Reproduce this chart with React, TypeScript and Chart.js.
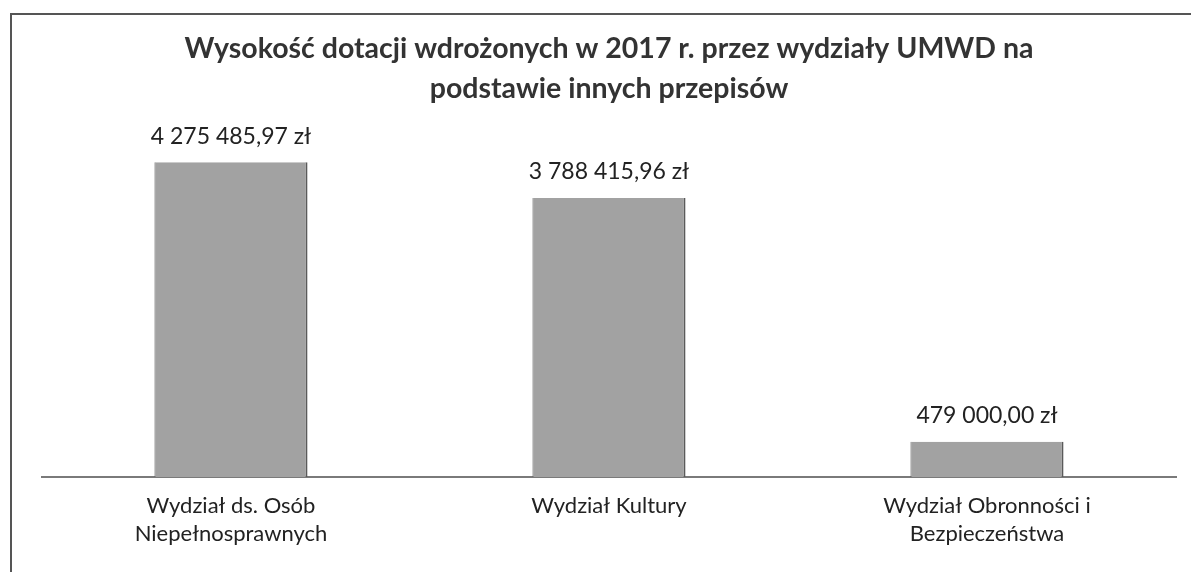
import React, { useEffect, useRef } from "react";
import { Chart, registerables } from "chart.js";

Chart.register(...registerables);

const titleLines = [
  "Wysokość dotacji wdrożonych w 2017 r. przez wydziały UMWD na",
  "podstawie innych przepisów",
];
const categories = [
  ["Wydział ds. Osób", "Niepełnosprawnych"],
  ["Wydział Kultury"],
  ["Wydział Obronności i", "Bezpieczeństwa"],
];
const values = [4275485.97, 3788415.96, 479000.0];
const yMax = 5000000;

function formatPLN(v: number): string {
  const [intPart, dec] = v.toFixed(2).split(".");
  const grouped = intPart.replace(/\B(?=(\d{3})+(?!\d))/g, " ");
  return `${grouped},${dec} zł`;
}

const FONT = "Lato, 'Open Sans', sans-serif";

const valueLabels = {
  id: "valueLabels",
  afterDatasetsDraw(chart: any) {
    const { ctx } = chart;
    const meta = chart.getDatasetMeta(0);
    ctx.save();
    ctx.font = `23px ${FONT}`;
    ctx.fillStyle = "#222222";
    ctx.textAlign = "center";
    ctx.textBaseline = "middle";
    meta.data.forEach((bar: any, i: number) => {
      ctx.fillText(formatPLN(values[i]), bar.x, bar.y - 26);
    });
    ctx.restore();
  },
};

export default function App() {
  const ref = useRef<HTMLCanvasElement>(null);

  useEffect(() => {
    if (!ref.current) return;
    const chart = new Chart(ref.current, {
      type: "bar",
      data: {
        labels: categories,
        datasets: [
          {
            data: values,
            backgroundColor: "#a2a2a2",
            borderColor: "#5a5a5a",
            borderWidth: { left: 1, right: 2, top: 0, bottom: 0 },
            borderSkipped: false,
            categoryPercentage: 1,
            barPercentage: 0.405,
          },
        ],
      },
      options: {
        animation: false,
        responsive: false,
        maintainAspectRatio: false,
        layout: { padding: { left: 30, right: 15, bottom: 15, top: 0 } },
        plugins: {
          legend: { display: false },
          tooltip: { enabled: false },
          title: {
            display: true,
            text: titleLines,
            color: "#333333",
            font: { family: FONT, size: 28.5, weight: "bold", lineHeight: 1.4 },
            padding: { top: 14, bottom: 0 },
          },
        },
        scales: {
          y: { display: false, min: 0, max: yMax },
          x: {
            grid: { display: false, drawTicks: false },
            border: { display: true, color: "#7a7a7a", width: 2 },
            ticks: {
              color: "#222222",
              font: { family: FONT, size: 22, lineHeight: 1.27 },
              padding: 15,
              maxRotation: 0,
              autoSkip: false,
            },
            afterFit: (s: any) => {
              s.height = 80;
            },
          },
        },
      },
      plugins: [valueLabels],
    });
    return () => chart.destroy();
  }, []);

  return (
    <div
      style={{
        position: "absolute",
        left: 10,
        top: 13,
        width: 1179,
        height: 557,
        borderTop: "2px solid #555",
        borderLeft: "2px solid #555",
        background: "#fff",
      }}
    >
      <canvas ref={ref} width={1179} height={557} style={{ display: "block" }} />
    </div>
  );
}
